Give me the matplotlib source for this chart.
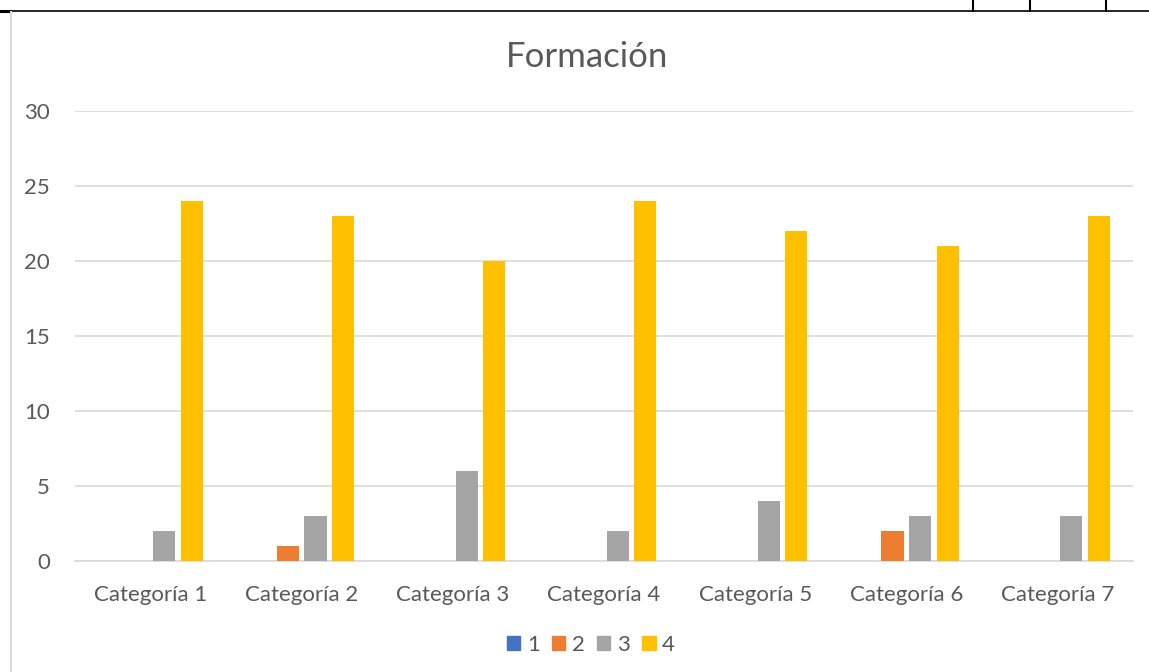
import numpy as np
import matplotlib
matplotlib.use("Agg")
import matplotlib.pyplot as plt
from matplotlib.lines import Line2D
from matplotlib.patches import Patch

# data
categories = ["Categoría 1", "Categoría 2", "Categoría 3", "Categoría 4",
              "Categoría 5", "Categoría 6", "Categoría 7"]
series_names = ["1", "2", "3", "4"]
s1 = [0, 0, 0, 0, 0, 0, 0]
s2 = [0, 1, 0, 0, 0, 2, 0]
s3 = [2, 3, 6, 2, 4, 3, 3]
s4 = [24, 23, 20, 24, 22, 21, 23]
colors = ["#4472C4", "#ED7D31", "#A5A5A5", "#FFC000"]

plt.rcParams['font.family'] = ['Lato', 'DejaVu Sans']
txt = "#595959"
grid = "#D9D9D9"

W, H = 1149, 672
fig = plt.figure(figsize=(W/100, H/100), dpi=100)
ax = fig.add_axes([75/W, (H-561)/H, (1133-75)/W, 450/H])

x = np.arange(len(categories))
slot = 0.182
bw = 0.146
for i, vals in enumerate([s1, s2, s3, s4]):
    ax.bar(x + (i - 1.5)*slot, vals, width=bw, color=colors[i], zorder=3)

ax.set_xlim(-0.5, len(categories) - 0.5)
ax.set_ylim(0, 30)
ax.set_yticks(range(0, 31, 5))
ax.set_xticks(x)
ax.set_xticklabels(categories)
ax.tick_params(length=0, labelsize=16, colors=txt)
ax.tick_params(axis='x', pad=17)
ax.tick_params(axis='y', pad=18)
ax.yaxis.grid(True, color=grid, linewidth=1.2, zorder=0)
for sp in ['top', 'right', 'left']:
    ax.spines[sp].set_visible(False)
ax.spines['bottom'].set_color(grid)
ax.spines['bottom'].set_linewidth(1.2)

fig.text(587/W, 1 - 57/H, "Formación", ha='center', va='center', fontsize=25, color=txt)

handles = [Patch(color=c) for c in colors]
fig.legend(handles, series_names, loc='center', bbox_to_anchor=(591/W, 1 - 645/H),
           ncol=4, frameon=False, fontsize=16, labelcolor=txt,
           handlelength=0.6, handleheight=0.6, handletextpad=0.3, columnspacing=0.55)

# page border lines around the chart
fig.add_artist(Line2D([0, 1], [1 - 11/H, 1 - 11/H], color='black', lw=1.2, transform=fig.transFigure))
fig.add_artist(Line2D([0, 10/W], [1 - 11/H, 1 - 11/H], color='black', lw=2.2, transform=fig.transFigure))
for xv in [973, 1030, 1106]:
    fig.add_artist(Line2D([xv/W, xv/W], [1, 1 - 11/H], color='black', lw=1.5, transform=fig.transFigure))
fig.add_artist(Line2D([11/W, 11/W], [0, 1 - 12/H], color='#D9D9D9', lw=1.5, transform=fig.transFigure))

fig.savefig("out.png", dpi=100)
